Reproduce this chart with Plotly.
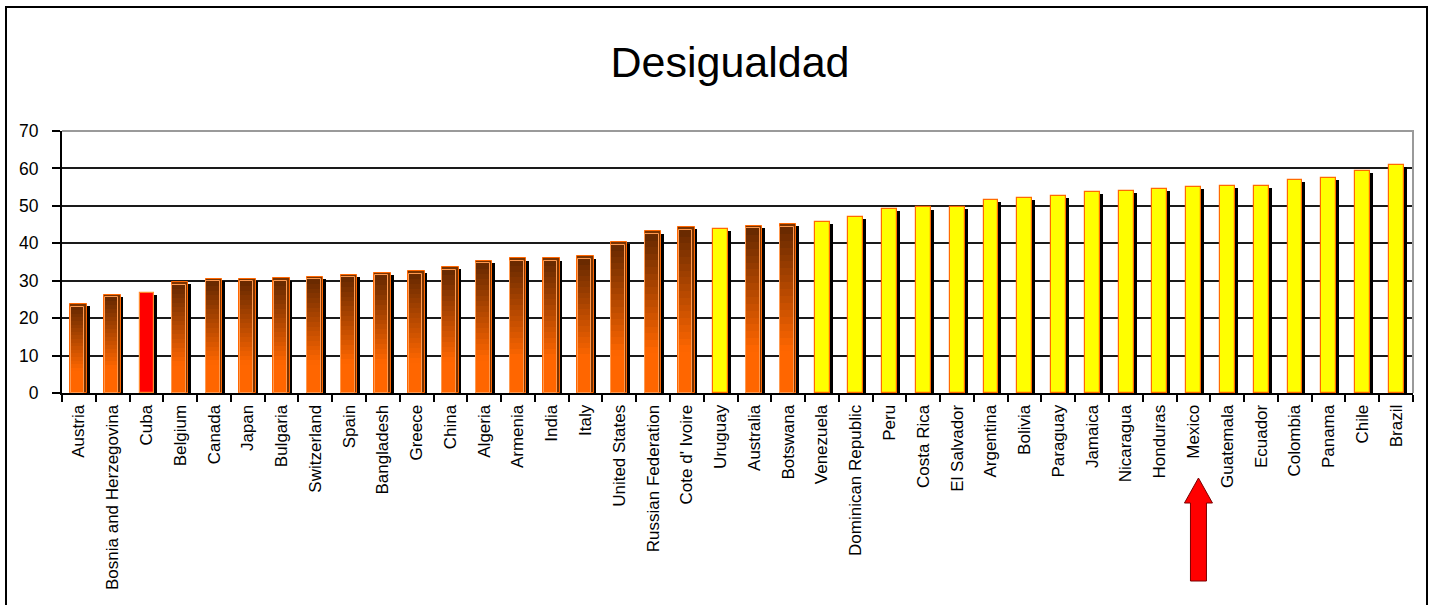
import plotly.graph_objects as go

countries = ["Austria", "Bosnia and Herzegovina", "Cuba", "Belgium", "Canada", "Japan",
             "Bulgaria", "Switzerland", "Spain", "Bangladesh", "Greece", "China", "Algeria",
             "Armenia", "India", "Italy", "United States", "Russian Federation", "Cote d' Ivoire",
             "Uruguay", "Australia", "Botswana", "Venezuela", "Dominican Republic", "Peru",
             "Costa Rica", "El Salvador", "Argentina", "Bolivia", "Paraguay", "Jamaica",
             "Nicaragua", "Honduras", "Mexico", "Guatemala", "Ecuador", "Colombia", "Panama",
             "Chile", "Brazil"]
gini = [23.8, 26.3, 26.7, 29.6, 30.5, 30.5, 30.6, 31.1, 31.6, 32.1, 32.6, 33.6, 35.4,
        36.0, 36.0, 36.5, 40.3, 43.2, 44.3, 43.8, 44.7, 45.1, 45.7, 47.1, 49.1,
        49.6, 49.7, 51.5, 52.1, 52.6, 53.7, 54.0, 54.5, 55.0, 55.4, 55.4, 57.0, 57.4,
        59.4, 60.9]
group = ["brown", "brown", "red", "brown", "brown", "brown", "brown", "brown", "brown",
         "brown", "brown", "brown", "brown", "brown", "brown", "brown", "brown", "brown",
         "brown", "yellow", "brown", "brown", "yellow", "yellow", "yellow", "yellow",
         "yellow", "yellow", "yellow", "yellow", "yellow", "yellow", "yellow", "yellow",
         "yellow", "yellow", "yellow", "yellow", "yellow", "yellow"]
y_ticks = [0, 10, 20, 30, 40, 50, 60, 70]
title_text = "Desigualdad"
highlight = "Mexico"

FONT = "Liberation Sans, Arial, sans-serif"
W_FIG, H_FIG = 1429, 605
L, R, T, B = 62, 16, 131, 212
PW, PH = W_FIG - L - R, H_FIG - T - B

brown_x = [c for c, g in zip(countries, group) if g == "brown"]
brown_v = [v for v, g in zip(gini, group) if g == "brown"]
yel_x = [c for c, g in zip(countries, group) if g == "yellow"]
yel_v = [v for v, g in zip(gini, group) if g == "yellow"]
red_x = [c for c, g in zip(countries, group) if g == "red"]
red_v = [v for v, g in zip(gini, group) if g == "red"]

fig = go.Figure()

# dark side (depth) of every bar
fig.add_trace(go.Bar(x=countries, y=[v - 0.6 for v in gini], width=0.09, offset=0.225,
                     marker=dict(color="#000000", line=dict(width=0))))

# back shape of brown bars
fig.add_trace(go.Bar(x=brown_x, y=brown_v, width=0.49, offset=-0.25,
                     marker=dict(color="#7a3300", line=dict(color="#ff6600", width=1))))

# gradient face of brown bars (nested layers, dark at top -> orange at bottom)
N = 24
dark = (0x6a, 0x2a, 0x00)
orange = (0xff, 0x66, 0x00)
face_v = [v - 0.7 for v in brown_v]
for k in range(N):
    t = min(1.0, k / (N * 0.72))
    col = "rgb({},{},{})".format(*[int(round(d + (o - d) * t)) for d, o in zip(dark, orange)])
    fig.add_trace(go.Bar(x=brown_x, y=[v * (1 - k / N) for v in face_v], width=0.4, offset=-0.235,
                         marker=dict(color=col, line=dict(width=0))))
fig.add_trace(go.Bar(x=brown_x, y=face_v, width=0.4, offset=-0.235,
                     marker=dict(color="rgba(0,0,0,0)", line=dict(color="#ff9a50", width=1))))

# yellow bars
fig.add_trace(go.Bar(x=yel_x, y=yel_v, width=0.44, offset=-0.215,
                     marker=dict(color="#ffff00", line=dict(color="#ff6a00", width=1.2))))
# red bar
fig.add_trace(go.Bar(x=red_x, y=red_v, width=0.43, offset=-0.205,
                     marker=dict(color="#ff0000", line=dict(color="#ff8a30", width=1.2))))

fig.update_traces(hoverinfo="skip", showlegend=False)

# red block arrow pointing at the highlighted country
idx = countries.index(highlight)
xc = (idx + 0.5) / len(countries) + 5 / PW
def px(dx):
    return xc + dx / PW
def py(y):
    return (393 - y) / PH
arrow = ("M {},{} L {},{} L {},{} L {},{} L {},{} L {},{} L {},{} Z").format(
    px(0), py(478), px(14), py(503), px(8), py(503), px(8), py(581),
    px(-8), py(581), px(-8), py(503), px(-14), py(503))

fig.update_layout(
    width=W_FIG, height=H_FIG,
    margin=dict(l=L, r=R, t=T, b=B, pad=0),
    paper_bgcolor="white", plot_bgcolor="white",
    barmode="overlay", bargap=0,
    font=dict(family=FONT, color="black"),
    title=dict(text=title_text, font=dict(family=FONT, size=43, color="black"),
               x=730 / W_FIG, xanchor="center", xref="container",
               y=1 - 62 / H_FIG, yanchor="middle", yref="container"),
    xaxis=dict(type="category", categoryorder="array", categoryarray=countries,
               range=[-0.5, len(countries) - 0.5],
               tickson="boundaries", ticks="outside", ticklen=7, tickwidth=1.5, tickcolor="black",
               tickangle=-90, tickfont=dict(family=FONT, size=17, color="black"),
               ticklabelstandoff=3,
               showline=True, linecolor="black", linewidth=2, showgrid=False, zeroline=False,
               fixedrange=True),
    yaxis=dict(range=[0, 70], tickvals=y_ticks, ticks="outside", ticklen=8, tickwidth=1.5,
               tickcolor="black", tickfont=dict(family=FONT, size=17.5, color="black"),
               ticklabelstandoff=10,
               showline=True, linecolor="black", linewidth=2,
               showgrid=True, gridcolor="#1a1a1a", gridwidth=1.5, zeroline=False,
               fixedrange=True),
    shapes=[
        dict(type="path", xref="paper", yref="paper",
             path="M 0,1 L 1,1 L 1,0", line=dict(color="#9a9a9a", width=2), layer="above"),
        dict(type="path", xref="paper", yref="paper",
             path="M {},{} L {},{} L {},{} L {},{}".format(
                 (6 - L) / PW, (393 - 620) / PH, (6 - L) / PW, (393 - 7) / PH,
                 (1427 - L) / PW, (393 - 7) / PH, (1427 - L) / PW, (393 - 620) / PH),
             line=dict(color="black", width=2)),
        dict(type="path", xref="paper", yref="paper", path=arrow,
             fillcolor="#ff0000", line=dict(color="#7a0000", width=1)),
    ],
)

fig.write_html("out.html", config={"displayModeBar": False},
               post_script="document.body.style.margin='0px';document.body.style.overflow='hidden';")
